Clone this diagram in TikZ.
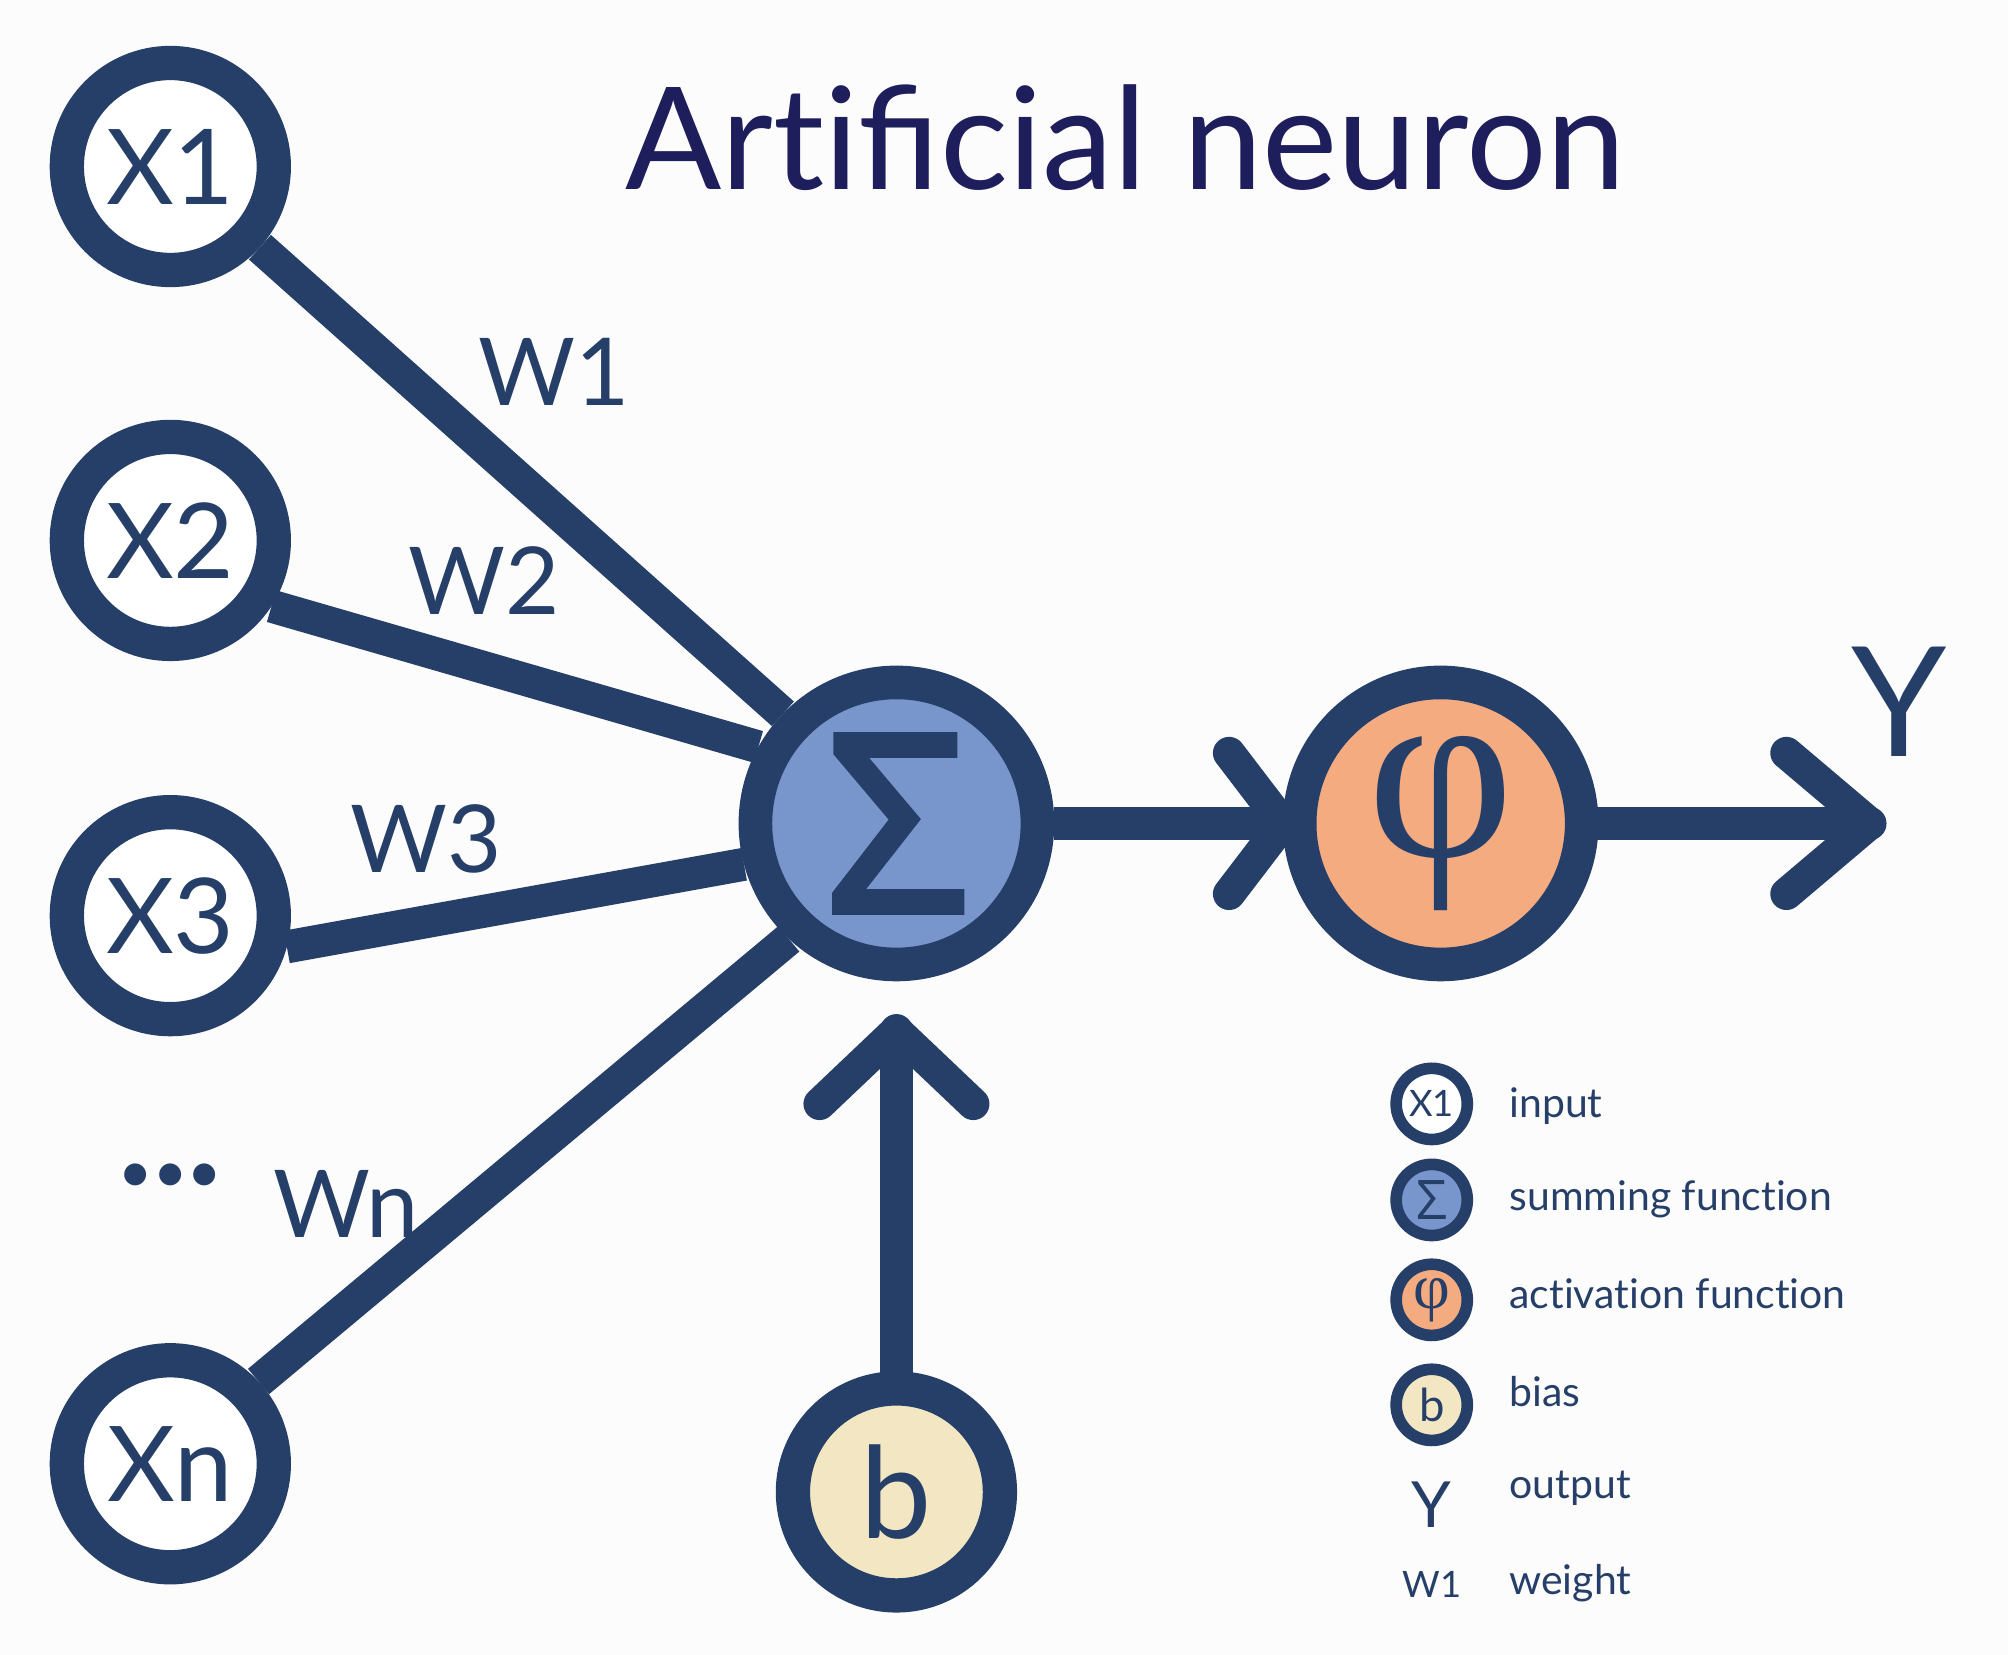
\documentclass[tikz,border=0pt]{standalone}
\usepackage{fontspec}
\setmainfont{Lato}[Ligatures=NoCommon]
\newfontfamily\phifont{Liberation Serif}
\newfontfamily\sigfont{Open Sans}[FakeBold=3]
\newfontfamily\sigsmall{Open Sans}
\usetikzlibrary{calc}
\definecolor{navy}{HTML}{263F69}
\definecolor{titlec}{HTML}{1E1E5C}
\definecolor{sumfill}{HTML}{7896CB}
\definecolor{actfill}{HTML}{F5AB80}
\definecolor{biasfill}{HTML}{F3E7C3}
\definecolor{bgc}{HTML}{FDFCFC}
\pgfdeclarelayer{bgl}
\pgfdeclarelayer{edges}
\pgfsetlayers{bgl,edges,main}
\begin{document}
\begin{tikzpicture}[x=0.09898mm,y=-0.09898mm,
  inp/.style={circle, draw=navy, line width=2.65mm, fill=white, minimum size=16mm, inner sep=0pt, text=navy, font=\fontsize{23}{26}\selectfont},
  big/.style={circle, draw=navy, line width=2.6mm, minimum size=21.8mm, inner sep=0pt, text=navy},
  wire/.style={navy, line width=2.55mm},
  wiretwo/.style={navy, line width=2.6mm},
  chev/.style={navy, line width=2.5mm, line cap=round, line join=round},
  lab/.style={text=navy, font=\fontsize{20.6}{24}\selectfont},
  leg/.style={circle, draw=navy, line width=0.9mm, minimum size=5.5mm, inner sep=0pt, text=navy, font=\fontsize{8}{10}\selectfont},
  legtxt/.style={text=navy, anchor=base west, inner sep=0pt, font=\fontsize{9}{11}\selectfont}]
\begin{pgfonlayer}{bgl}
\fill[bgc] (0,0) rectangle (1568,1292);
\end{pgfonlayer}
\useasboundingbox (0,0) rectangle (1568,1292);

% title
\node[text=titlec, anchor=base, inner sep=0pt, font=\fontsize{31.3}{34}\selectfont] (title) at (879,148) {Arti^^^^fb01cial neuron};

% nodes
\node[inp] (x1) at (133,130) {X1};
\node[inp] (x2) at (133,422) {X2};
\node[inp] (x3) at (133,715) {X3};
\node[inp] (xn) at (133,1143) {Xn};
\node[big, fill=sumfill, font=\sigfont\fontsize{54}{60}\selectfont] (s) at (700,643) {Σ};
\node[big, fill=actfill, font=\phifont\fontsize{56}{58}\selectfont] (p) at (1125,643) {φ};
\node[inp, fill=biasfill, font=\fontsize{28}{30}\selectfont] (b) at (700,1165) {b};

\coordinate (ytip) at (1460,643);
\coordinate (btip) at (700,805);

\begin{pgfonlayer}{edges}
  \draw[wire] (x1.-42) -- (s.136);
  \draw[wire] (x2.-33) -- (s.151);
  \draw[wire] (x3.-15) -- (s.195);
  \draw[wire] (xn.43) -- (s.227);
  \draw[wiretwo] (s.east) -- (p.west);
  \draw[chev] ($(p.west)+(-42,-55)$) -- (p.west) -- ($(p.west)+(-42,55)$);
  \draw[wiretwo, line cap=round] (p.east) -- (ytip);
  \draw[chev] ($(ytip)+(-65,-55)$) -- (ytip) -- ($(ytip)+(-65,55)$);
  \draw[wiretwo, line cap=round] (b.north) -- (btip);
  \draw[chev] ($(btip)+(-60,57)$) -- (btip) -- ($(btip)+(60,57)$);
\end{pgfonlayer}

% labels
\node[text=navy, font=\fontsize{33.6}{36}\selectfont] (ylab) at (1483,548) {Y};
\node[lab] (w1) at (433,290) {W1};
\node[lab] (w2) at (378,453) {W2};
\node[lab] (w3) at (333,655) {W3};
\node[lab] (wn) at (270,940) {Wn};
\node[text=navy, font=\fontsize{13}{15}\selectfont] (dots) at (133,920) {•••};

% legend
\node[leg, fill=white] (l1) at (1118,862) {X1};
\node[leg, fill=sumfill, font=\sigsmall\fontsize{12}{12}\selectfont] (l2) at (1118,937) {Σ};
\node[leg, fill=actfill, font=\phifont\fontsize{14}{14}\selectfont] (l3) at (1118,1015) {φ};
\node[leg, fill=biasfill, font=\fontsize{10}{12}\selectfont] (l4) at (1118,1097) {b};
\node[text=navy, font=\fontsize{14}{14}\selectfont] (l5) at (1118,1175) {Y};
\node[text=navy, font=\fontsize{8}{8}\selectfont] (l6) at (1118,1237) {W1};
\node[legtxt] (t1) at (1178,873) {input};
\node[legtxt] (t2) at (1178,945) {summing function};
\node[legtxt] (t3) at (1178,1022) {activation function};
\node[legtxt] (t4) at (1178,1098) {bias};
\node[legtxt] (t5) at (1178,1170) {output};
\node[legtxt] (t6) at (1178,1245) {weight};
\end{tikzpicture}
\end{document}
